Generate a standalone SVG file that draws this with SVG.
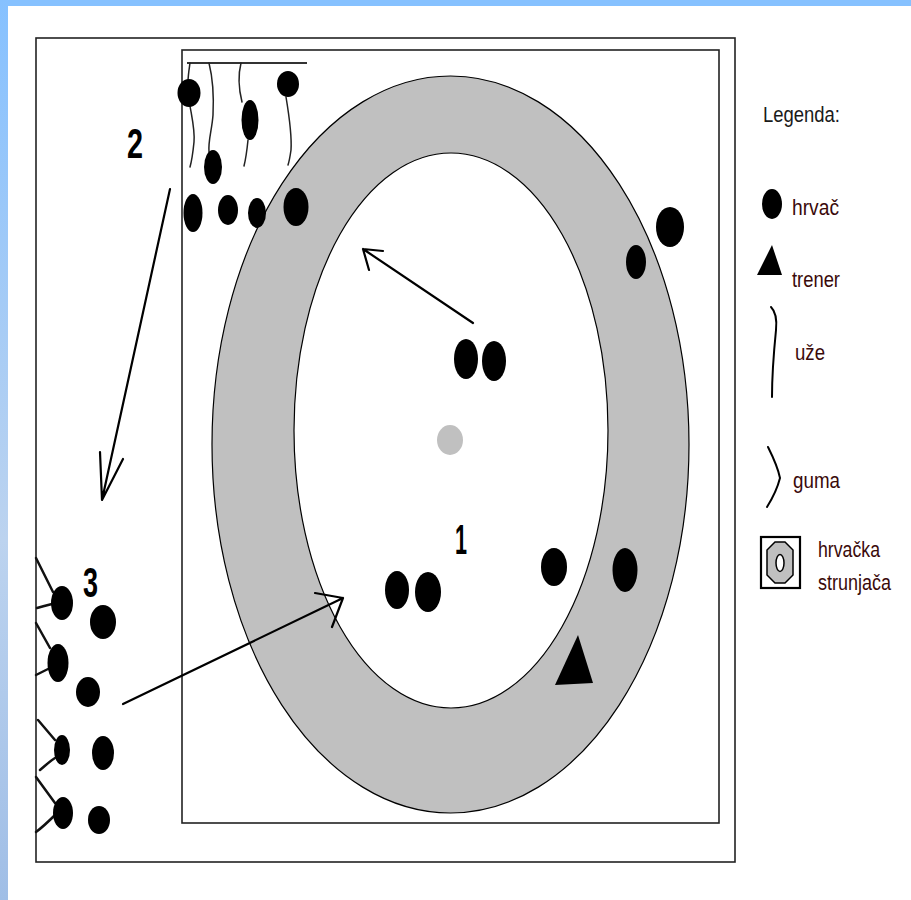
<svg xmlns="http://www.w3.org/2000/svg" width="911" height="900" viewBox="0 0 911 900">
<defs>
<linearGradient id="bg" x1="0" y1="0" x2="0" y2="1">
<stop offset="0" stop-color="#86C1FF"/>
<stop offset="0.6" stop-color="#BCD3EF"/>
<stop offset="1" stop-color="#A0BEE6"/>
</linearGradient>
</defs>
<style>
.dot{fill:#000}
.frame{fill:none;stroke:#222;stroke-width:1.6}
.rope{fill:none;stroke:#222;stroke-width:1.5;stroke-linecap:round}
.band{fill:none;stroke:#111;stroke-width:2.5;stroke-linecap:round}
.arrow{fill:none;stroke:#000;stroke-width:2.2;stroke-linecap:round;stroke-linejoin:round}
.num{font-family:"Liberation Sans",Arial,sans-serif;font-weight:bold;font-size:42px;fill:#000}
.leg{font-family:"Liberation Sans",Arial,sans-serif;font-size:22px;fill:#3a0a0a}
</style>
<rect width="911" height="900" fill="#fff"/>
<rect x="0" y="0" width="911" height="6" fill="#86C1FF"/>
<rect x="0" y="0" width="8" height="900" fill="url(#bg)"/>

<g id="frames">
<rect class="frame" x="36" y="38" width="699" height="824"/>
<rect class="frame" x="182" y="50" width="537" height="773"/>
</g>

<g id="mat">
<ellipse cx="450.5" cy="444.5" rx="238.5" ry="368.5" fill="#C0C0C0" stroke="#000" stroke-width="1.2"/>
<ellipse cx="451" cy="430.5" rx="157" ry="277.5" fill="#fff" stroke="#000" stroke-width="1.2"/>
<ellipse cx="450" cy="440" rx="13" ry="15" fill="#C0C0C0"/>
</g>

<g id="group2">
<line x1="187" y1="63" x2="307" y2="63" stroke="#333" stroke-width="2.2"/>
<path class="rope" d="M190 63 C189 70 188 76 188 82"/>
<path class="rope" d="M190 106 C192 118 195 130 194 142 C193 152 192 160 190 167"/>
<path class="rope" d="M209 63 C212 75 214 95 213 115 C212 130 208 140 209 152"/>
<path class="rope" d="M241 63 C238 75 239 90 242 102"/>
<path class="rope" d="M248 140 C247 150 246 158 244 166"/>
<path class="rope" d="M286 97 C289 115 292 135 291 150 C290 157 289 162 288 165"/>
<ellipse class="dot" cx="189" cy="93" rx="11.5" ry="14"/>
<ellipse class="dot" cx="250" cy="120" rx="8.5" ry="20"/>
<ellipse class="dot" cx="288" cy="84" rx="11" ry="13"/>
<ellipse class="dot" cx="213" cy="167" rx="9" ry="17"/>
<ellipse class="dot" cx="193" cy="213" rx="9.5" ry="19"/>
<ellipse class="dot" cx="228" cy="210" rx="10" ry="15"/>
<ellipse class="dot" cx="257" cy="213" rx="9" ry="15"/>
<ellipse class="dot" cx="296" cy="207" rx="12.5" ry="19"/>
<text class="num" x="127" y="158" textLength="16" lengthAdjust="spacingAndGlyphs">2</text>
</g>

<g id="group3">
<path class="band" d="M36 558 L53 592 M37 608 C44 606 48 605 52 604"/>
<path class="band" d="M36 623 L50 648 M36 675 C42 672 46 670 50 668"/>
<path class="band" d="M38 720 L55 740 M40 770 C46 765 50 761 55 758"/>
<path class="band" d="M36 777 L55 803 M36 832 C44 826 50 820 55 815"/>
<ellipse class="dot" cx="62" cy="603" rx="11" ry="17"/>
<ellipse class="dot" cx="103" cy="622" rx="13" ry="17"/>
<ellipse class="dot" cx="58" cy="663" rx="10.5" ry="19"/>
<ellipse class="dot" cx="88" cy="692" rx="12" ry="15"/>
<ellipse class="dot" cx="62" cy="750" rx="8" ry="15"/>
<ellipse class="dot" cx="103" cy="753" rx="11" ry="17"/>
<ellipse class="dot" cx="63" cy="813" rx="10" ry="16"/>
<ellipse class="dot" cx="99" cy="820" rx="11" ry="14"/>
<text class="num" x="83" y="597" textLength="15" lengthAdjust="spacingAndGlyphs">3</text>
</g>

<g id="group1">
<ellipse class="dot" cx="466" cy="359" rx="12" ry="20"/>
<ellipse class="dot" cx="494" cy="361" rx="12" ry="20"/>
<ellipse class="dot" cx="397" cy="590" rx="12" ry="19"/>
<ellipse class="dot" cx="428" cy="592" rx="13" ry="20"/>
<ellipse class="dot" cx="554" cy="567" rx="13" ry="19"/>
<ellipse class="dot" cx="625" cy="570" rx="12.5" ry="22"/>
<ellipse class="dot" cx="670" cy="227" rx="14" ry="20"/>
<ellipse class="dot" cx="636" cy="262" rx="10" ry="17"/>
<polygon class="dot" points="578,635 555,685 593,683"/>
<text class="num" x="455" y="554" textLength="12" lengthAdjust="spacingAndGlyphs">1</text>
</g>

<g id="connectors">
<path class="arrow" d="M170 189 L102 500 M100 452 L102 500 L123 459"/>
<path class="arrow" d="M473 323 L363 249 M383 251 L363 249 L369 270"/>
<path class="arrow" d="M123 704 L343 598 M315 593 L343 598 L332 627"/>
</g>

<g id="legend">
<text class="leg" x="763" y="122" textLength="77" lengthAdjust="spacingAndGlyphs" style="fill:#1a1a1a">Legenda:</text>
<ellipse class="dot" cx="772" cy="204" rx="10" ry="15"/>
<text class="leg" x="792" y="215" textLength="47" lengthAdjust="spacingAndGlyphs">hrvač</text>
<polygon class="dot" points="772,245 757,275 782,275"/>
<text class="leg" x="792" y="287" textLength="48" lengthAdjust="spacingAndGlyphs">trener</text>
<path class="rope" style="stroke:#000;stroke-width:2" d="M771 307 C776 312 777 320 776 330 C774 350 772 372 772 397"/>
<text class="leg" x="795" y="360" textLength="30" lengthAdjust="spacingAndGlyphs">uže</text>
<path class="rope" style="stroke:#000;stroke-width:2" d="M768 447 C773 457 778 468 780 478 C777 490 772 499 767 507"/>
<text class="leg" x="793" y="488" textLength="47" lengthAdjust="spacingAndGlyphs">guma</text>
<rect x="761" y="537" width="39" height="51" fill="#fff" stroke="#000" stroke-width="2.2"/>
<polygon points="775,542 785,542 793,550 793,575 785,583 775,583 767,575 767,550" fill="#C0C0C0" stroke="#000" stroke-width="1.5"/>
<ellipse cx="780" cy="563" rx="4" ry="8.5" fill="#fff" stroke="#000" stroke-width="1.5"/>
<text class="leg" x="818" y="557" textLength="62" lengthAdjust="spacingAndGlyphs">hrvačka</text>
<text class="leg" x="818" y="590" textLength="73" lengthAdjust="spacingAndGlyphs">strunjača</text>
</g>
</svg>
